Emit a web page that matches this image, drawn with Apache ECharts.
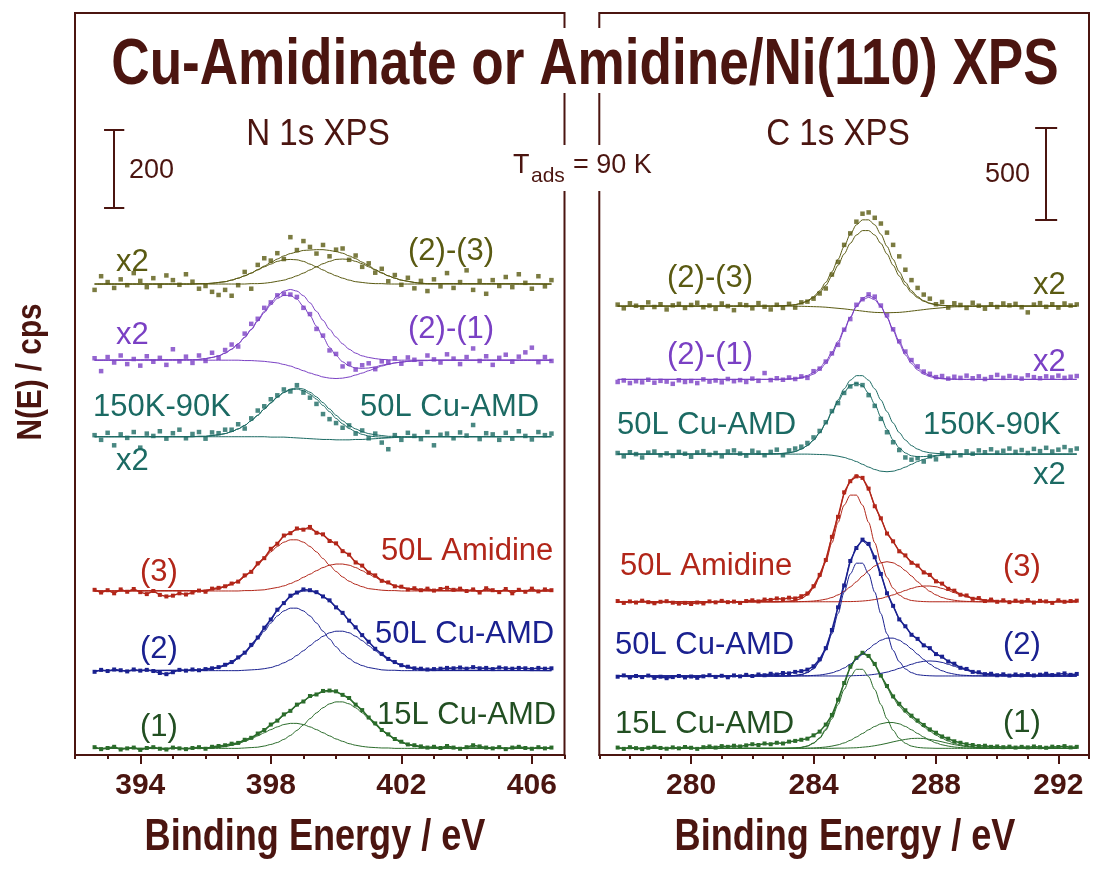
<!DOCTYPE html>
<html><head><meta charset="utf-8">
<script src="https://cdn.jsdelivr.net/npm/echarts/dist/echarts.min.js"></script>
<style>html,body{margin:0;padding:0;background:#fff}#chart{width:1094px;height:873px}</style>
</head><body><div id="chart"></div>
<script>
// ---------------- DATA ----------------
// tick labels
const nTicks = [394, 398, 402, 406];
const cTicks = [280, 284, 288, 292];
// sampling grids [start, step] (eV)
const nGrid = [392.6, 0.2];
const nFitGrid = [395.6, 0.2];
const cGrid = [277.6, 0.2];
const cFitGrid = [282.6, 0.2];
// vertical offsets of each trace (cps): (2)-(3), (2)-(1), 150K-90K, (3), (2), (1)
const nBase = [1206, 1011, 815, 420, 216, 17];
const cBase = [2420, 2025, 1622, 826, 426, 36];
// scale bars [x (eV), y0 (cps), size (cps)]
const nScale = [393.2, 1401, 200];
const cScale = [291.6, 2884, 500];

// N 1s measured points (cps above trace baseline)
const n23Data = [-15,20,5,-10,12,-3,28,8,-8,15,-5,22,10,-2,25,6,-12,-5,-20,-28,-15,-30,-3,31,-12,49,66,60,79,64,120,87,110,95,78,100,71,88,91,62,73,44,53,29,39,7,23,-2,16,-11,8,-18,12,-6,28,-10,5,35,-15,8,-25,10,-5,18,-8,25,3,-12,20,-6,10];
const n21Data = [5,-28,8,-6,12,-10,3,-14,10,-4,6,-12,28,-3,9,-7,12,-2,19,6,26,40,35,68,93,106,134,148,166,170,168,162,134,118,80,63,25,16,-16,-9,-24,-13,-8,-23,-3,-5,5,-9,7,1,-9,12,2,-6,15,4,-10,8,30,-2,10,-12,6,14,-4,9,20,32,-5,8,-2];
const n150Data = [4,-8,10,-22,6,-3,12,-28,8,2,14,-5,9,18,-4,7,12,-5,11,9,18,18,32,21,47,67,78,96,106,121,116,132,113,100,84,58,45,35,23,29,8,16,-4,8,-15,-32,4,-8,10,2,-6,12,-22,5,8,-4,11,3,30,-6,9,6,-8,10,-5,14,2,-7,12,4,8];
const n3Data = [3,-4,2,-6,4,-2,5,-3,-8,0,-10,-14,-12,-6,-9,-4,1,-2,6,8,12,19,24,40,49,71,84,108,121,142,148,160,157,164,149,145,128,122,102,93,73,65,47,40,26,22,12,11,4,7,2,6,1,5,8,3,6,0,4,-4,7,2,-3,5,-6,3,-2,6,-1,4,2];
const n2Data = [-3,2,-1,3,1,-2,3,0,2,-1,-6,-9,-4,2,0,3,1,4,6,9,15,22,34,46,66,85,110,131,156,173,192,200,208,206,201,190,180,162,148,128,111,91,74,56,43,30,22,14,10,6,5,3,4,5,7,6,8,5,9,6,7,4,8,6,5,7,6,4,7,5,6];
const n1Data = [3,-2,1,4,-3,0,2,-4,1,3,-1,-3,2,0,-2,1,3,-1,4,6,8,12,14,22,27,38,47,61,71,87,96,112,120,134,138,147,148,146,137,129,112,98,79,64,47,36,24,17,10,8,5,2,4,1,6,2,-1,3,8,5,2,0,3,-2,2,4,1,-1,3,0,2];

// N 1s fit curves (sum and components)
const n23FitSum = [0,1,1,2,4,6,10,15,21,28,37,46,55,64,72,78,82,86,87,88,88,86,83,79,72,65,56,47,37,29,21,15,10,7,4,2,1,1];
const n23FitA = [0,1,1,2,4,6,10,15,21,28,36,44,51,58,62,63,62,58,51,44,36,28,21,15,10,6,4,2,1,1,0,0,0,0,0,0,0,0];
const n23FitB = [0,0,0,0,0,0,0,0,0,1,1,2,4,7,10,15,21,28,36,44,52,58,63,64,63,58,52,44,36,28,21,15,10,7,4,2,1,1];
const n21FitSum = [1,2,4,7,11,18,28,42,58,78,100,122,142,158,166,166,156,138,114,87,59,33,12,-4,-15,-20,-21,-20,-17,-13,-10,-7,-5,-3,-2,-1,-1,0];
const n21FitPos = [1,2,4,7,11,18,28,42,59,79,102,125,147,165,177,181,177,165,147,125,102,79,59,42,28,18,11,7,4,2,1,0,0,0,0,0,0,0];
const n21FitNeg = [0,0,0,0,0,0,0,0,-1,-1,-2,-3,-5,-7,-11,-15,-21,-27,-33,-38,-43,-46,-47,-46,-43,-38,-33,-27,-21,-15,-11,-7,-5,-3,-2,-1,-1,0];
const n150FitSum = [0,1,1,3,5,8,13,20,29,41,55,71,86,101,113,120,122,118,109,96,80,64,47,33,21,13,6,2,0,-1,-2,-1,-1,-1,-1,0,0,0];
const n150FitPos = [0,1,1,3,5,8,13,20,29,41,55,71,87,102,114,122,125,122,114,102,87,71,55,41,29,20,13,8,5,3,1,1,0,0,0,0,0,0];
const n150FitNeg = [0,0,0,0,0,0,0,0,0,0,0,0,-1,-1,-1,-2,-3,-4,-5,-6,-7,-7,-8,-8,-8,-7,-7,-6,-5,-4,-3,-2,-1,-1,-1,0,0,0];
const n3FitSum = [1,1,2,4,6,11,17,25,37,51,68,86,105,123,139,150,157,160,158,152,143,132,119,105,91,76,63,50,38,28,20,14,9,6,3,2,1,1];
const n3FitA = [1,1,2,4,6,11,17,25,36,50,66,83,100,114,125,131,131,125,114,100,83,66,50,36,25,17,11,6,4,2,1,1,0,0,0,0,0,0];
const n3FitB = [0,0,0,0,0,0,0,0,1,1,2,3,6,9,13,19,26,35,43,52,60,66,69,69,66,60,52,43,35,26,19,13,9,6,3,2,1,1];
const n2FitSum = [1,1,2,5,8,13,20,31,45,63,83,106,130,153,173,188,199,204,204,199,190,177,163,146,128,109,90,72,56,41,30,20,13,8,5,3,2,1];
const n2FitA = [1,1,2,5,8,13,20,31,44,61,81,101,122,140,153,160,160,153,140,122,101,81,61,44,31,20,13,8,5,2,1,1,0,0,0,0,0,0];
const n2FitB = [0,0,0,0,0,0,0,0,1,2,3,5,8,13,20,28,39,51,64,77,88,97,101,101,97,88,77,64,51,39,28,20,13,8,5,3,2,1];
const n1FitSum = [0,1,1,2,3,5,8,12,19,26,35,46,58,71,84,97,109,121,131,139,144,146,144,137,126,112,96,79,62,47,34,23,15,10,6,3,2,1];
const n1FitA = [0,1,1,2,3,5,8,12,18,24,32,40,48,55,61,64,64,61,55,48,40,32,24,18,12,8,5,3,2,1,1,0,0,0,0,0,0,0];
const n1FitB = [0,0,0,0,0,0,0,0,1,2,3,6,10,15,23,33,46,60,76,91,104,114,119,119,114,104,91,76,60,46,33,23,15,10,6,3,2,1];

// C 1s measured points (cps above trace baseline)
const c23Data = [8,-12,15,2,-8,20,-5,10,-18,4,12,-10,6,18,-6,3,-15,14,0,-22,9,5,-12,16,-4,-18,7,-10,12,-8,20,24,40,68,95,170,238,330,392,455,498,505,476,445,396,330,268,196,140,98,62,40,10,22,-8,15,6,-10,18,2,-14,10,-5,14,4,12,-6,-34,8,16,-4,10,-8,14,3,9];
const c21Data = [-14,-6,-20,-10,-16,-2,-18,-8,-12,-24,-5,-14,-9,-20,0,-12,-6,-16,2,-10,-4,-14,4,-8,34,-4,6,-2,10,2,16,8,44,58,96,140,186,268,325,402,432,458,446,398,345,270,205,150,104,70,42,30,12,18,4,14,8,20,6,16,2,12,24,8,18,10,4,22,12,6,16,10,20,8,14,18];
const c150Data = [6,-12,10,0,-18,8,14,-6,4,-10,12,2,-14,9,16,-4,6,-12,14,20,3,-8,18,8,-6,12,24,-6,20,30,40,60,90,125,172,232,275,330,365,378,372,318,260,190,118,64,22,-18,-30,-22,-40,-12,-28,4,-10,8,-6,15,2,20,10,26,8,18,30,12,22,6,28,16,34,14,24,38,20,30];
const c3Data = [4,-6,2,-4,6,-2,-8,0,3,-5,-10,-6,-12,-4,-9,2,-3,5,-2,1,-6,4,8,2,12,10,18,14,22,18,30,45,84,145,225,350,458,590,650,676,668,610,515,450,368,326,272,250,210,195,158,145,110,98,70,60,38,34,16,20,4,12,0,8,-2,6,0,9,-4,5,2,-6,8,0,4,6];
const c2Data = [-4,3,-8,0,-6,2,-10,-4,-12,-6,0,-8,-3,-10,-2,4,-5,1,-7,3,-2,6,0,8,4,12,8,16,14,22,26,34,52,90,150,248,370,488,620,690,735,712,640,550,446,378,305,268,222,200,165,150,118,104,78,66,44,38,22,20,10,12,4,9,2,8,4,10,3,7,12,5,9,14,6,11];
const c1Data = [4,-3,6,1,-4,3,8,2,-2,5,0,7,3,-3,6,10,4,12,8,14,10,16,22,18,26,22,30,26,36,40,46,52,70,90,128,180,262,352,440,488,515,498,455,392,336,280,240,205,176,150,126,102,84,64,52,38,30,22,18,12,14,8,10,6,9,4,8,5,10,6,3,9,7,12,5,8];

// C 1s fit curves
const c23FitSum = [0,1,2,4,8,16,29,51,83,128,185,252,322,387,438,465,465,438,387,322,252,185,128,83,51,29,16,8,4,2,1,0,0,0,0,0,0,0,0,0,0];
const c23FitMain = [0,0,2,3,7,14,26,45,73,112,162,220,281,338,383,407,407,383,338,281,220,162,112,73,45,26,14,7,3,2,1,0,0,0,0,0,0,0,0,0,0];
const c23FitNeg = [0,0,0,0,-1,-1,-2,-3,-4,-6,-9,-12,-15,-19,-23,-27,-31,-34,-35,-36,-35,-34,-31,-27,-23,-19,-15,-12,-9,-6,-4,-3,-2,-1,-1,0,0,0,0,0,0];
const c21FitMain = [0,0,0,1,3,7,15,28,51,85,132,193,262,333,395,438,453,438,395,333,262,193,132,85,51,28,15,7,3,1,0,0,0,0,0,0,0,0,0,0,0];
const c21FitSecond = [0,0,1,3,5,11,21,37,62,98,146,205,270,335,391,429,442,429,391,335,270,205,146,98,62,37,21,11,5,3,1,0,0,0,0,0,0,0,0,0,0];
const c150FitSum = [1,2,4,7,14,27,46,75,115,165,223,282,334,370,382,368,328,269,201,134,76,34,6,-9,-14,-13,-11,-7,-4,-3,-2,-1,0,0,0,0,0,0,0,0,0];
const c150FitPos = [1,2,4,7,14,27,46,76,116,168,229,292,352,398,423,423,398,352,292,229,168,116,76,46,27,14,7,4,2,1,0,0,0,0,0,0,0,0,0,0,0];
const c150FitNeg = [0,0,0,0,0,0,0,-1,-2,-3,-6,-11,-18,-28,-40,-55,-70,-83,-92,-95,-92,-83,-70,-55,-40,-28,-18,-11,-6,-3,-2,-1,0,0,0,0,0,0,0,0,0];
const c3FitSum = [0,0,1,3,7,17,38,77,139,228,341,465,577,656,685,664,603,523,443,374,320,279,246,218,191,166,141,117,95,75,57,41,29,19,12,7,4,2,1,1,0];
const c3FitA = [0,0,1,3,7,17,36,73,131,215,318,428,521,575,575,521,428,318,215,131,73,36,17,7,3,1,0,0,0,0,0,0,0,0,0,0,0,0,0,0,0];
const c3FitB = [0,0,0,0,0,1,2,4,8,14,23,37,56,80,108,139,168,193,210,216,210,193,168,139,108,80,56,37,23,14,8,4,2,1,0,0,0,0,0,0,0];
const c3FitC = [0,0,0,0,0,0,0,0,0,0,0,0,1,1,2,4,7,12,18,27,37,49,61,72,81,85,85,81,72,61,49,37,27,18,12,7,4,2,1,1,0];
const c2FitSum = [0,0,0,1,3,8,19,41,82,148,243,364,495,615,698,727,702,633,543,451,372,310,263,227,197,170,146,122,100,80,62,46,33,22,14,9,5,3,2,1,0];
const c2FitA = [0,0,0,1,3,7,18,38,77,138,227,336,452,550,608,608,550,452,336,227,138,77,38,18,7,3,1,0,0,0,0,0,0,0,0,0,0,0,0,0,0];
const c2FitB = [0,0,0,0,0,1,1,3,5,10,17,28,43,64,89,117,146,172,193,204,204,193,172,146,117,89,64,43,28,17,10,5,3,1,1,0,0,0,0,0,0];
const c2FitC = [0,0,0,0,0,0,0,0,0,0,0,0,0,1,2,3,5,9,14,21,30,41,52,63,73,79,81,79,73,63,52,41,30,21,14,9,5,3,2,1,0];
const c1FitSum = [0,0,0,1,2,5,13,29,57,104,170,255,347,431,490,511,494,448,387,325,271,227,193,165,139,115,92,71,54,39,27,17,11,7,4,2,1,1,0,0,0];
const c1FitA = [0,0,0,1,2,5,12,27,54,97,159,236,317,386,426,426,386,317,236,159,97,54,27,12,5,2,1,0,0,0,0,0,0,0,0,0,0,0,0,0,0];
const c1FitB = [0,0,0,0,0,0,1,2,4,7,12,19,29,43,61,80,100,118,132,139,139,132,118,100,80,61,43,29,19,12,7,4,2,1,0,0,0,0,0,0,0];
const c1FitC = [0,0,0,0,0,0,0,0,0,0,0,1,1,2,3,6,9,14,20,27,35,42,48,53,54,53,48,42,35,27,20,14,9,6,3,2,1,1,0,0,0];

// ---------------- STYLE ----------------
const MAROON = '#4b1510';
const OLIVE = '#5a5a12', PURPLE = '#7a40c4', TEAL = '#1b6a63', RED = '#b22619', BLUE = '#1a2190', GREEN = '#2b6c2b', GREEN_TXT = '#224f22';
const SANS = "'Liberation Sans', Arial, Helvetica, sans-serif";

function fontAvailable(name) {
  const c = document.createElement('canvas').getContext('2d');
  const s = '394 Binding Energy';
  c.font = 'bold 40px monospace';
  const w1 = c.measureText(s).width;
  c.font = "bold 40px '" + name + "', monospace";
  return Math.abs(c.measureText(s).width - w1) > 0.5;
}
const narrowOk = fontAvailable('Liberation Sans Narrow');
const TICK_FONT = narrowOk ? "'Liberation Sans Narrow', 'Liberation Sans', sans-serif" : SANS;
const TICK_SIZE = narrowOk ? 32 : 30;

// ---------------- BUILD ----------------
function pts(grid, vals, off) {
  return vals.map((v, i) => [+(grid[0] + grid[1] * i).toFixed(2), v + off]);
}
function dataSeries(ax, ay, grid, vals, off, color, joined) {
  return {
    type: joined ? 'line' : 'scatter', xAxisIndex: ax, yAxisIndex: ay,
    data: pts(grid, vals, off), symbol: 'rect', symbolSize: joined ? 4 : 4.5,
    showSymbol: true, itemStyle: { color: color }, lineStyle: { color: color, width: 1.5 },
    silent: true, z: 2
  };
}
function fitSeries(ax, ay, fgrid, vals, off, color, dgrid, n) {
  const xmin = dgrid[0], xmax = +(dgrid[0] + dgrid[1] * (n - 1)).toFixed(2);
  return {
    type: 'line', xAxisIndex: ax, yAxisIndex: ay,
    data: [[xmin, off]].concat(pts(fgrid, vals, off), [[xmax, off]]),
    showSymbol: false, symbol: 'none', smooth: 0.3, smoothMonotone: 'x',
    lineStyle: { color: color, width: 1 }, silent: true, z: 3
  };
}
const nTraces = [
  [n23Data, [n23FitSum, n23FitA, n23FitB], OLIVE, false],
  [n21Data, [n21FitSum, n21FitPos, n21FitNeg], PURPLE, false],
  [n150Data, [n150FitSum, n150FitPos, n150FitNeg], TEAL, false],
  [n3Data, [n3FitSum, n3FitA, n3FitB], RED, true],
  [n2Data, [n2FitSum, n2FitA, n2FitB], BLUE, true],
  [n1Data, [n1FitSum, n1FitA, n1FitB], GREEN, true]
];
const cTraces = [
  [c23Data, [c23FitSum, c23FitMain, c23FitNeg], OLIVE, false],
  [c21Data, [c21FitMain, c21FitSecond], PURPLE, false],
  [c150Data, [c150FitSum, c150FitPos, c150FitNeg], TEAL, false],
  [c3Data, [c3FitSum, c3FitA, c3FitB, c3FitC], RED, true],
  [c2Data, [c2FitSum, c2FitA, c2FitB, c2FitC], BLUE, true],
  [c1Data, [c1FitSum, c1FitA, c1FitB, c1FitC], GREEN, true]
];
const series = [];
nTraces.forEach((t, k) => {
  series.push(dataSeries(0, 0, nGrid, t[0], nBase[k], t[2], t[3]));
  t[1].forEach(f => series.push(fitSeries(0, 0, nFitGrid, f, nBase[k], t[2], nGrid, t[0].length)));
});
cTraces.forEach((t, k) => {
  series.push(dataSeries(2, 1, cGrid, t[0], cBase[k], t[2], t[3]));
  t[1].forEach(f => series.push(fitSeries(2, 1, cFitGrid, f, cBase[k], t[2], cGrid, t[0].length)));
});
function scaleBar(ax, ay, s, cap) {
  const x = s[0], y0 = s[1], y1 = s[1] + s[2];
  return {
    type: 'lines', coordinateSystem: 'cartesian2d', xAxisIndex: ax, yAxisIndex: ay, silent: true,
    lineStyle: { color: MAROON, width: 2, opacity: 1 }, z: 4,
    data: [
      { coords: [[x, y0], [x, y1]] },
      { coords: [[x - cap, y0], [x + cap, y0]] },
      { coords: [[x - cap, y1], [x + cap, y1]] }
    ]
  };
}
series.push(scaleBar(0, 0, nScale, 0.31));
series.push(scaleBar(2, 1, cScale, 0.36));

function minorAxis(gi, min, max) {
  return {
    gridIndex: gi, type: 'value', min: min, max: max, interval: 1, position: 'bottom',
    axisLine: { show: true, onZero: false, lineStyle: { color: MAROON, width: 2 } },
    axisTick: { show: true, inside: false, length: 4, lineStyle: { color: MAROON, width: 2 } },
    axisLabel: { show: false }, splitLine: { show: false }
  };
}
function majorAxis(gi, min, max, ticks) {
  return {
    gridIndex: gi, type: 'value', min: min, max: max, position: 'bottom',
    axisLine: { show: false, onZero: false },
    axisTick: { show: true, inside: false, length: 9, customValues: ticks, lineStyle: { color: MAROON, width: 2 } },
    axisLabel: { show: true, customValues: ticks, margin: 16, color: MAROON, fontSize: TICK_SIZE, fontWeight: 'bold', fontFamily: TICK_FONT },
    splitLine: { show: false }
  };
}

function txt(text, x, y, o) {
  const el = {
    type: 'text', x: x, y: y, z: 100, silent: true,
    style: {
      text: text, fill: o.color || MAROON, fontSize: o.size, fontWeight: o.weight || 'normal',
      fontFamily: SANS, textAlign: o.align || 'left', align: o.align || 'left',
      textVerticalAlign: 'middle', verticalAlign: 'middle'
    }
  };
  if (o.scaleX) el.scaleX = o.scaleX;
  if (o.rotation) el.rotation = o.rotation;
  return el;
}
const labels = [
  ['x2', 116, 262, OLIVE], ['(2)-(3)', 408, 251, OLIVE],
  ['x2', 116, 335, PURPLE], ['(2)-(1)', 408, 329, PURPLE],
  ['150K-90K', 93, 407, TEAL], ['50L Cu-AMD', 360, 407, TEAL], ['x2', 116, 461, TEAL],
  ['(3)', 140, 572, RED], ['50L Amidine', 381, 551, RED],
  ['(2)', 140, 649, BLUE], ['50L Cu-AMD', 375, 634, BLUE],
  ['(1)', 140, 727, GREEN_TXT], ['15L Cu-AMD', 377, 715, GREEN_TXT],
  ['(2)-(3)', 667, 278, OLIVE], ['x2', 1033, 285, OLIVE],
  ['(2)-(1)', 667, 355, PURPLE], ['x2', 1033, 362, PURPLE],
  ['50L Cu-AMD', 617, 425, TEAL], ['150K-90K', 923, 425, TEAL], ['x2', 1033, 475, TEAL],
  ['50L Amidine', 620, 566, RED], ['(3)', 1003, 567, RED],
  ['50L Cu-AMD', 615, 645, BLUE], ['(2)', 1003, 645, BLUE],
  ['15L Cu-AMD', 615, 724, GREEN_TXT], ['(1)', 1003, 723, GREEN_TXT]
];
const graphic = [
  { type: 'rect', z: 99, silent: true, shape: { x: 556, y: 28, width: 52, height: 65 }, style: { fill: '#fff' } },
  { type: 'rect', z: 99, silent: true, shape: { x: 556, y: 145, width: 52, height: 46 }, style: { fill: '#fff' } },
  txt('Cu-Amidinate or Amidine/Ni(110) XPS', 585, 66, { size: 64, weight: 'bold', align: 'center', scaleX: 0.83 }),
  txt('N 1s XPS', 318, 135, { size: 36, align: 'center', scaleX: 0.92 }),
  txt('C 1s XPS', 838, 135, { size: 36, align: 'center', scaleX: 0.92 }),
  txt('T', 513, 166, { size: 27 }),
  txt('ads', 531, 176, { size: 21 }),
  txt('= 90 K', 573, 166, { size: 27 }),
  txt('200', 129, 171, { size: 27 }),
  txt('500', 985, 175, { size: 27 }),
  txt('N(E) / cps', 31, 372, { size: 35, weight: 'bold', align: 'center', scaleX: 0.85, rotation: Math.PI / 2 }),
  txt('Binding Energy / eV', 315, 838, { size: 44, weight: 'bold', align: 'center', scaleX: 0.82 }),
  txt('Binding Energy / eV', 845, 838, { size: 44, weight: 'bold', align: 'center', scaleX: 0.82 })
].concat(labels.map(l => txt(l[0], l[1], l[2], { size: 31, color: l[3] })));

const chart = echarts.init(document.getElementById('chart'), null, { renderer: 'canvas' });
chart.setOption({
  animation: false,
  backgroundColor: '#fff',
  grid: [
    { left: 75, top: 13, width: 489.5, height: 742, show: true, borderColor: MAROON, borderWidth: 2, backgroundColor: 'transparent' },
    { left: 599.3, top: 13, width: 489.7, height: 742, show: true, borderColor: MAROON, borderWidth: 2, backgroundColor: 'transparent' }
  ],
  xAxis: [
    minorAxis(0, 392, 407), majorAxis(0, 392, 407, nTicks),
    minorAxis(1, 277, 293), majorAxis(1, 277, 293, cTicks)
  ],
  yAxis: [
    { gridIndex: 0, type: 'value', min: 0, max: 1900, show: false },
    { gridIndex: 1, type: 'value', min: 0, max: 4000, show: false }
  ],
  series: series,
  graphic: graphic
});
</script></body></html>
